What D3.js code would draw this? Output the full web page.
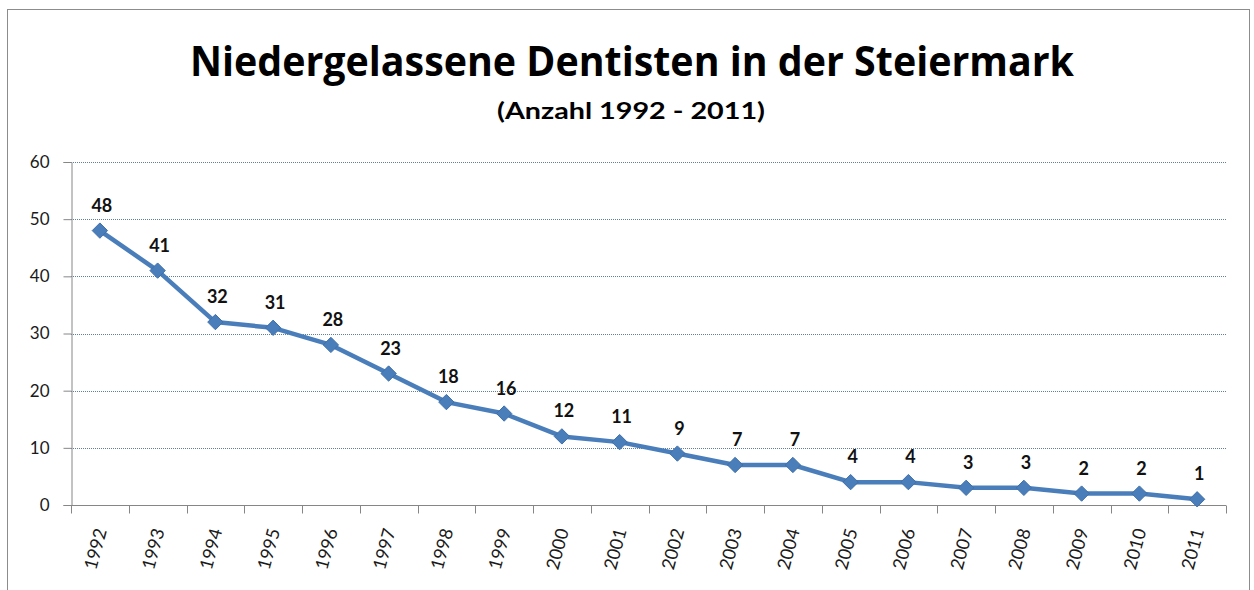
<!DOCTYPE html>
<html>
<head>
<meta charset="utf-8">
<script src="https://cdn.jsdelivr.net/npm/d3@7"></script>
<style>
  body { margin: 0; background: #fff; }
  svg { display: block; }
</style>
</head>
<body>
<script>
// data
var years = ['1992','1993','1994','1995','1996','1997','1998','1999','2000','2001',
             '2002','2003','2004','2005','2006','2007','2008','2009','2010','2011'];
var dentists = [48, 41, 32, 31, 28, 23, 18, 16, 12, 11, 9, 7, 7, 4, 4, 3, 3, 2, 2, 1];
var yTicks = [0, 10, 20, 30, 40, 50, 60];
var title = 'Niedergelassene Dentisten in der Steiermark';
var subtitle = '(Anzahl 1992 - 2011)';

var Chart = {

  width: 1254,
  height: 590,
  margin: { left: 71, right: 28, top: 162, bottom: 85 },
  lineColor: '#4a7ebb',
  font: 'Lato, "Open Sans", sans-serif',

  init: function () {
    this.svg = d3.select('body').append('svg')
      .attr('width', this.width)
      .attr('height', this.height);

    // outer frame of the chart object
    this.svg.append('rect')
      .attr('x', 7.5).attr('y', 9.5)
      .attr('width', 1242).attr('height', 600)
      .attr('fill', '#fff')
      .attr('stroke', '#8c8c8c');

    this.x = d3.scaleBand()
      .domain(years)
      .range([this.margin.left, this.width - this.margin.right]);
    this.y = d3.scaleLinear()
      .domain([0, 60])
      .range([this.height - this.margin.bottom, this.margin.top]);

    this.drawTitles();
    this.drawGrid();
    this.drawAxes();
    this.drawSeries();
  },

  drawTitles: function () {
    this.svg.append('text')
      .attr('x', 632).attr('y', 76)
      .attr('text-anchor', 'middle')
      .attr('textLength', 884).attr('lengthAdjust', 'spacingAndGlyphs')
      .style('font-family', '"Open Sans", sans-serif')
      .style('font-weight', 'bold')
      .style('font-size', '41px')
      .style('fill', '#000')
      .text(title);

    this.svg.append('text')
      .attr('x', 631).attr('y', 119)
      .attr('text-anchor', 'middle')
      .attr('textLength', 268).attr('lengthAdjust', 'spacingAndGlyphs')
      .style('font-family', this.font)
      .style('font-weight', 'bold')
      .style('font-size', '23px')
      .style('fill', '#000')
      .text(subtitle);
  },

  drawGrid: function () {
    var x = this.x, y = this.y;
    this.svg.append('g')
      .selectAll('line')
      .data(yTicks.filter(function (d) { return d > 0; }))
      .join('line')
      .attr('x1', x.range()[0]).attr('x2', x.range()[1])
      .attr('y1', function (d) { return Math.round(y(d)) + 0.5; })
      .attr('y2', function (d) { return Math.round(y(d)) + 0.5; })
      .attr('stroke', '#5f7f9c')
      .attr('stroke-width', 1)
      .attr('stroke-dasharray', '1,1');
  },

  drawAxes: function () {
    var x = this.x, y = this.y, self = this;
    var base = Math.round(y(0)) + 0.5;

    var yAxis = this.svg.append('g')
      .attr('transform', 'translate(' + (x.range()[0] + 0.5) + ',0)')
      .call(d3.axisLeft(y).tickValues(yTicks).tickSize(8).tickPadding(14));
    yAxis.select('.domain').attr('stroke', '#868686');
    yAxis.selectAll('.tick line').attr('stroke', '#868686');
    yAxis.selectAll('.tick text')
      .style('font-family', this.font)
      .style('font-size', '17px')
      .style('fill', '#1a1a1a');

    // category boundaries for the tick marks
    var edges = years.map(function (d) { return x(d); }).concat([x.range()[1]]);
    var xg = this.svg.append('g');
    xg.append('line')
      .attr('x1', x.range()[0]).attr('x2', x.range()[1])
      .attr('y1', base).attr('y2', base)
      .attr('stroke', '#868686');
    xg.selectAll('line.tick')
      .data(edges)
      .join('line')
      .attr('class', 'tick')
      .attr('x1', function (d) { return Math.round(d) + 0.5; })
      .attr('x2', function (d) { return Math.round(d) + 0.5; })
      .attr('y1', base).attr('y2', base + 8)
      .attr('stroke', '#868686');

    xg.selectAll('text')
      .data(years)
      .join('text')
      .attr('transform', function (d) {
        return 'translate(' + (x(d) + x.bandwidth() / 2 + 7) + ',' + (base + 25) + ') rotate(-75)';
      })
      .attr('text-anchor', 'end')
      .style('font-family', self.font)
      .style('font-size', '18px')
      .style('fill', '#1a1a1a')
      .text(function (d) { return d; });
  },

  drawSeries: function () {
    var x = this.x, y = this.y;
    var cx = function (d, i) { return x(years[i]) + x.bandwidth() / 2; };

    var line = d3.line()
      .x(cx)
      .y(function (d) { return y(d); });

    this.svg.append('path')
      .datum(dentists)
      .attr('d', line)
      .attr('fill', 'none')
      .attr('stroke', this.lineColor)
      .attr('stroke-width', 4.5)
      .attr('stroke-linejoin', 'round');

    this.svg.append('g')
      .selectAll('path')
      .data(dentists)
      .join('path')
      .attr('d', d3.symbol().type(d3.symbolDiamond2).size(150))
      .attr('transform', function (d, i) {
        return 'translate(' + cx(d, i) + ',' + y(d) + ')';
      })
      .attr('fill', this.lineColor)
      .attr('stroke', '#3f6fa8')
      .attr('stroke-width', 1);

    this.svg.append('g')
      .selectAll('text')
      .data(dentists)
      .join('text')
      .attr('x', function (d, i) { return cx(d, i) + 2; })
      .attr('y', function (d) { return y(d) - 19; })
      .attr('text-anchor', 'middle')
      .style('font-family', this.font)
      .style('font-weight', 'bold')
      .style('font-size', '18px')
      .style('fill', '#111')
      .text(function (d) { return d; });
  }
};

Chart.init();
</script>
</body>
</html>
